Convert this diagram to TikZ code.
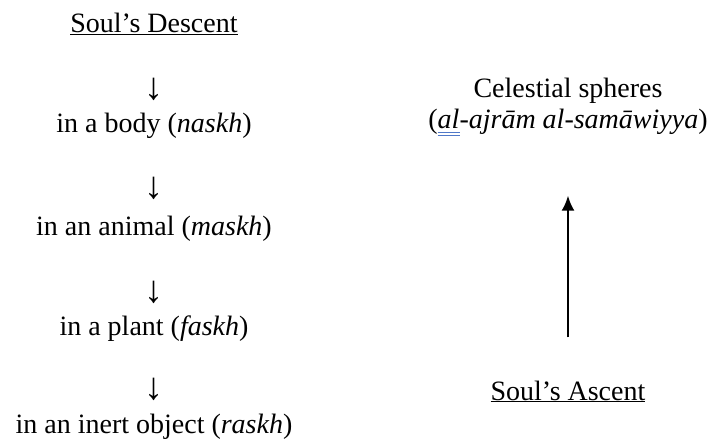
\documentclass[tikz,border=0pt]{standalone}
\usepackage{fontspec}
\setmainfont{Liberation Serif}
\usetikzlibrary{arrows.meta}

\definecolor{spellblue}{RGB}{80,120,200}

% blue double squiggle line under a word (as in the scanned page)
\newlength{\markwd}
\newcommand{\spellmark}[1]{\settowidth{\markwd}{#1}%
  \makebox[0pt][l]{\color{spellblue}\rule[-4pt]{\markwd}{0.8pt}}%
  \makebox[0pt][l]{\color{spellblue}\rule[-6.5pt]{\markwd}{0.8pt}}#1}

\begin{document}
\begin{tikzpicture}[x=1pt, y=1pt, >={Latex[length=15pt,width=13pt]},
    every node/.style={font=\fontsize{28}{31}\selectfont, inner sep=0pt},
    downmark/.style={font=\fontsize{38}{40}\selectfont}]

        % ==== DEFINITIONS ====
        \def\descX{154} % x of the descent column
        \def\ascX{568}  % x of the ascent column

        \useasboundingbox (0,0) rectangle (711,445);

        % ==== SOUL'S DESCENT ====
        \node[anchor=base] (descent) at (\descX,412) {\underline{Soul’s Descent}};

        \node[downmark] (down1) at (\descX,356) {↓};
        \node[anchor=base] (body) at (\descX,312) {in a body (\textit{naskh})};

        \node[downmark] (down2) at (\descX,257) {↓};
        \node[anchor=base] (animal) at (\descX,210) {in an animal (\textit{maskh})};

        \node[downmark] (down3) at (\descX,153) {↓};
        \node[anchor=base] (plant) at (\descX,110) {in a plant (\textit{faskh})};

        \node[downmark] (down4) at (\descX,56) {↓};
        \node[anchor=base] (inert) at (\descX,12) {in an inert object (\textit{raskh})};

        % ==== SOUL'S ASCENT ====
        \node[anchor=base] (ascent) at (\ascX,45) {\underline{Soul’s Ascent}};
        \node[align=center] (spheres) at (\ascX,338)
            {Celestial spheres\\(\textit{\spellmark{al}-ajrām al-samāwiyya})};

        % ==== ARROW UP ====
        \draw[->, line width=2.2pt, shorten <=43pt, shorten >=60pt]
            (ascent.north) -- (spheres.south);

    \end{tikzpicture}
\end{document}
